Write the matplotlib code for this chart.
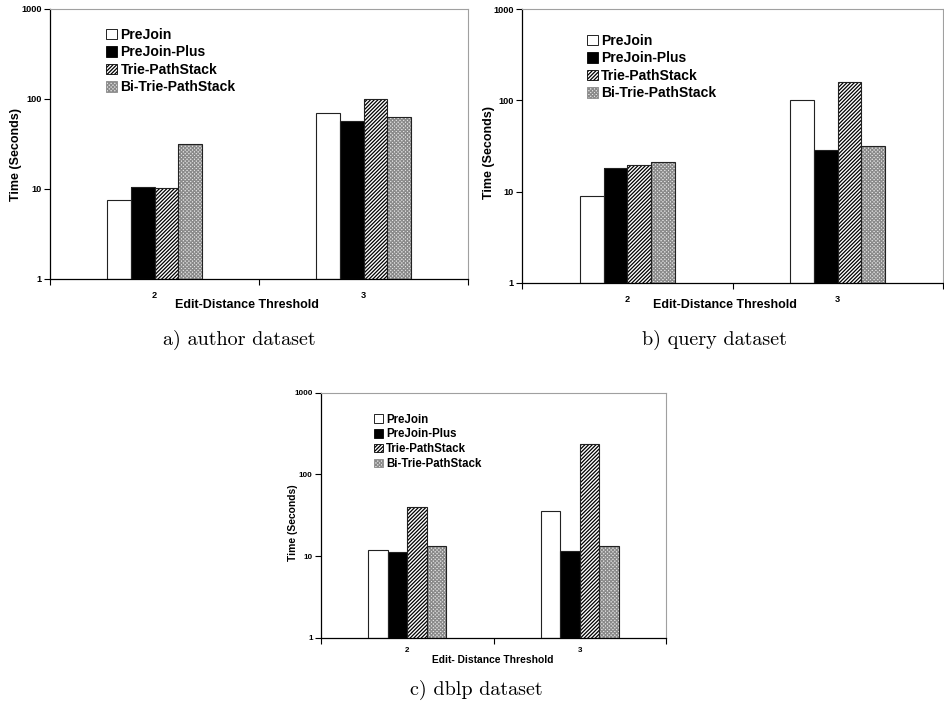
import numpy as np
import matplotlib
matplotlib.use('Agg')
import matplotlib.pyplot as plt
import matplotlib.patches as mpatches
from matplotlib.ticker import FixedLocator, NullFormatter, FixedFormatter

plt.rcParams['font.family'] = ['Liberation Sans', 'DejaVu Sans']
plt.rcParams['font.weight'] = 'bold'
plt.rcParams['hatch.linewidth'] = 0.9

categories = ['2', '3']
series = ['PreJoin', 'PreJoin-Plus', 'Trie-PathStack', 'Bi-Trie-PathStack']

# time in seconds, one row per series, columns = thresholds 2, 3
author_times = [[7.5, 70], [10.4, 56.5], [10.2, 99], [32, 62.6]]
query_times = [[9.0, 100], [18.2, 28.5], [19.5, 159], [21, 31.5]]
dblp_times = [[12, 35.6], [11.3, 11.4], [39.4, 237], [13.4, 13.1]]

captions = ['a) author dataset', 'b) query dataset', 'c) dblp dataset']
xlabels = ['Edit-Distance Threshold', 'Edit-Distance Threshold', 'Edit- Distance Threshold']

W, H = 944, 703

def rect(l, t, r, b):
    return [l / W, 1 - b / H, (r - l) / W, (b - t) / H]

styles = [
    dict(facecolor='white', hatch=None, hcol='black'),
    dict(facecolor='black', hatch=None, hcol='black'),
    dict(facecolor='white', hatch='/////////', hcol='black'),
    dict(facecolor='#e6e6e6', hatch='xxxxxxxxx', hcol='#8a8a8a'),
]


def draw_panel(ax, times, xlabel, fs, tfs, leg_anchor, ylab_xy, xlab_xy, tick_pad):
    x = np.arange(len(categories))
    w = 0.1125
    for i, vals in enumerate(times):
        st = styles[i]
        pos = x + (i - 1.5) * w
        hgt = np.array(vals) - 1  # bars start at the log axis floor (1)
        ax.bar(pos, hgt, w, bottom=1, facecolor=st['facecolor'], hatch=st['hatch'],
               edgecolor=st['hcol'], linewidth=0, zorder=2)
        ax.bar(pos, hgt, w, bottom=1, fill=False, edgecolor='#222222', linewidth=0.8, zorder=3)
    ax.set_yscale('log')
    ax.set_ylim(1, 1000)
    ax.set_xlim(-0.5, len(categories) - 0.5)
    ax.yaxis.set_major_locator(FixedLocator([1, 10, 100, 1000]))
    ax.yaxis.set_minor_locator(FixedLocator([]))
    ax.set_yticklabels(['1', '10', '100', '1000'])
    ax.xaxis.set_major_locator(FixedLocator([-0.5, 0.5, 1.5]))
    ax.xaxis.set_major_formatter(NullFormatter())
    ax.xaxis.set_minor_locator(FixedLocator(x))
    ax.xaxis.set_minor_formatter(FixedFormatter(categories))
    ax.tick_params(axis='x', which='major', length=4, width=0.8, direction='out')
    ax.tick_params(axis='x', which='minor', length=0, pad=tick_pad, labelsize=tfs)
    ax.tick_params(axis='y', which='major', length=4, width=0.8, pad=2, labelsize=tfs)
    for s in ['top', 'right']:
        ax.spines[s].set_color('#a0a0a0')
        ax.spines[s].set_linewidth(0.8)
    for s in ['left', 'bottom']:
        ax.spines[s].set_color('black')
        ax.spines[s].set_linewidth(0.9)
    ax.set_ylabel('Time (Seconds)', fontsize=fs, fontweight='bold')
    ax.set_xlabel(xlabel, fontsize=fs, fontweight='bold')
    ax.yaxis.set_label_coords(*ylab_xy)
    ax.xaxis.set_label_coords(*xlab_xy)
    handles = []
    for st, name in zip(styles, series):
        handles.append(mpatches.Patch(facecolor=st['facecolor'], hatch=st['hatch'],
                                      edgecolor='black' if st['hatch'] is None else st['hcol'],
                                      linewidth=0.6, label=name))
    ax.legend(handles=handles, loc='upper left', bbox_to_anchor=leg_anchor, frameon=False,
              fontsize=fs * 1.12, handlelength=0.75, handleheight=0.75, handletextpad=0.25,
              labelspacing=0.25, borderpad=0, borderaxespad=0)


fig = plt.figure(figsize=(W / 100, H / 100), dpi=100)

ax_a = fig.add_axes(rect(50, 9, 468, 279))
draw_panel(ax_a, author_times, xlabels[0], 9, 6.6, (0.135, 0.93),
           (-0.068, 0.46), (0.47, -0.074), 9)

ax_b = fig.add_axes(rect(522, 9.3, 943, 282.7))
draw_panel(ax_b, query_times, xlabels[1], 9, 6.6, (0.155, 0.91),
           (-0.064, 0.478), (0.481, -0.060), 9)

ax_c = fig.add_axes(rect(321, 392.7, 666, 637.7))
draw_panel(ax_c, dblp_times, xlabels[2], 7.4, 5.8, (0.155, 0.915),
           (-0.068, 0.47), (0.499, -0.071), 7)

fig.text(239 / W, 1 - 340 / H, captions[0], family='cmr10', fontsize=14.5,
         fontweight='normal', ha='center', va='center')
fig.text(714 / W, 1 - 340 / H, captions[1], family='cmr10', fontsize=14.5,
         fontweight='normal', ha='center', va='center')
fig.text(476 / W, 1 - 690 / H, captions[2], family='cmr10', fontsize=14.5,
         fontweight='normal', ha='center', va='center')

fig.savefig('out.png', dpi=100)
